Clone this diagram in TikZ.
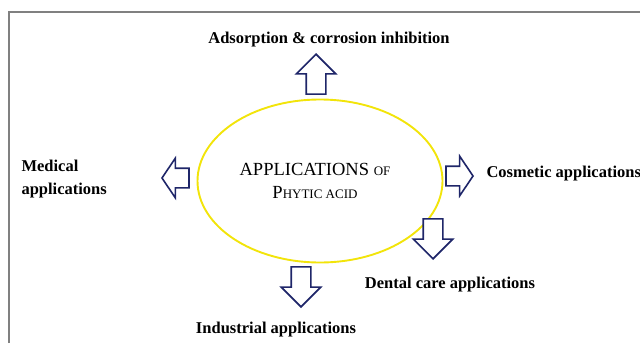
\documentclass[tikz,border=0pt]{standalone}
\usepackage{fontspec}
\setmainfont{Liberation Serif}
\usetikzlibrary{shapes.arrows,shapes.geometric,positioning}

\definecolor{navyline}{RGB}{31,38,105}
\definecolor{ringyellow}{RGB}{242,228,10}

\begin{document}
\begin{tikzpicture}[
    x=1pt, y=-1pt,
    block arrow/.style={single arrow, draw=navyline, fill=white, line width=1.6pt,
        inner sep=9pt, minimum height=40pt, single arrow head extend=10pt, anchor=tip},
    side arrow/.style={block arrow, minimum height=27pt, single arrow tip angle=112},
    app label/.style={font=\fontsize{16.5}{23}\selectfont\bfseries, align=left},
]
\useasboundingbox (0,0) rectangle (640,343);

% === Frame ===
\draw[gray, line width=1.2pt] (9,343) -- (9,12) -- (641,12);

% === Centre ===
\node[draw=ringyellow, line width=1.9pt, ellipse, minimum width=245pt, minimum height=163pt,
    inner sep=0pt] (hub) at (320,181) {};
\node[font=\fontsize{18.5}{23}\selectfont, align=center] (title) at (315,181)
    {APPLICATIONS {\fontsize{13}{13}\selectfont OF}\\P{\fontsize{13}{13}\selectfont HYTIC ACID}};

% === Arrows ===
\node[block arrow, rotate=90] (up) at (316,53) {};
\node[side arrow, rotate=180] (left) at (161,178) {};
\node[side arrow] (right) at (474,176) {};
\node[block arrow, rotate=-90] (dental) at (433,260) {};
\node[block arrow, rotate=-90] (industry) at (301,308) {};

% === Labels ===
\node[app label] (adsorb) at (329,40) {Adsorption \& corrosion inhibition};
\node[app label, anchor=west] (medical) at (18,179) {Medical\\applications};
\node[app label, anchor=west] (cosmetic) at (483,174) {Cosmetic applications};
\node[app label] (dentlab) at (450,285) {Dental care applications};
\node[app label] (indlab) at (276,330) {Industrial applications};

\end{tikzpicture}
\end{document}
